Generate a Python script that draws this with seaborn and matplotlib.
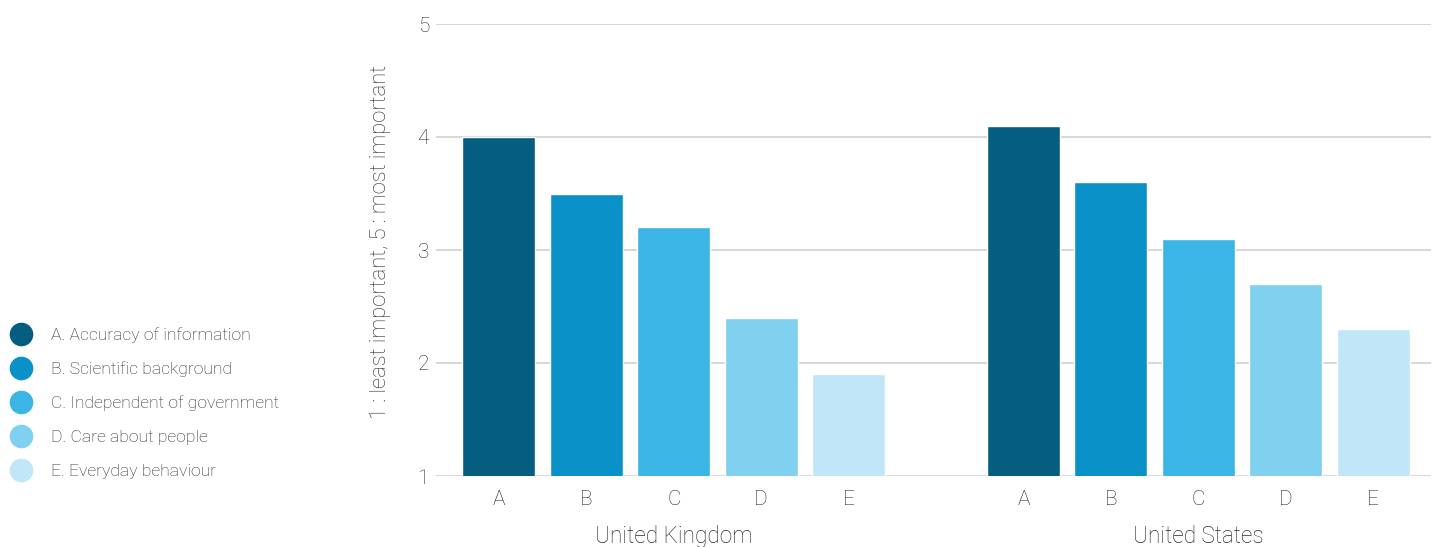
import matplotlib
matplotlib.use("Agg")
import matplotlib.pyplot as plt
from matplotlib.lines import Line2D
import seaborn as sns
import pandas as pd

# Survey data: mean importance scores (1 = least, 5 = most important)
items = ["A", "B", "C", "D", "E"]
item_labels = [
    "A. Accuracy of information",
    "B. Scientific background",
    "C. Independent of government",
    "D. Care about people",
    "E. Everyday behaviour",
]
countries = ["United Kingdom", "United States"]
uk_scores = [4.0, 3.5, 3.2, 2.4, 1.9]
us_scores = [4.1, 3.6, 3.1, 2.7, 2.3]
y_ticks = [1, 2, 3, 4, 5]
y_label = "1 : least important, 5 : most important"

palette = ["#055E80", "#0A91C7", "#3BB5E5", "#80D0EF", "#C0E6F7"]
text_color = "#2b2b2b"
grid_color = "#d4d4d4"

sns.set_theme(style="white")
plt.rcParams["font.family"] = ["Roboto", "DejaVu Sans"]

# One row per bar; the second country's group is offset by a blank slot
rows = []
for g, scores in enumerate([uk_scores, us_scores]):
    for i, (item, val) in enumerate(zip(items, scores)):
        rows.append({"pos": g * 6 + i, "item": item, "score": val,
                     "country": countries[g]})
df = pd.DataFrame(rows)

fig = plt.figure(figsize=(14.38, 5.47), dpi=100)
ax = fig.add_axes([436 / 1438, (547 - 476) / 547, (1431 - 436) / 1438, 452 / 547])

sns.barplot(data=df, x="pos", y="score", hue="item", hue_order=items,
            palette=palette, native_scale=True, dodge=False, width=0.835,
            saturation=1, legend=False, ax=ax, zorder=3)

ax.set_ylim(1, 5)
ax.set_xlim(-0.72, 10.66)
ax.set_yticks(y_ticks)
ax.set_yticklabels([str(t) for t in y_ticks], fontsize=15, color=text_color,
                   fontweight="light")
ax.set_xticks(df["pos"].tolist())
ax.set_xticklabels(df["item"].tolist(), fontsize=15, color=text_color,
                   fontweight="light")
ax.tick_params(axis="both", length=0)
ax.tick_params(axis="y", pad=5)
ax.tick_params(axis="x", pad=10)
for s in ax.spines.values():
    s.set_visible(False)
ax.grid(axis="y", color=grid_color, linewidth=1.3, zorder=0)
ax.set_axisbelow(True)
ax.set_xlabel("")
ax.set_ylabel(y_label, fontsize=15.8, color=text_color, fontweight="light")
ax.yaxis.set_label_coords(-0.045, 0.518)

# Country names under each group
for g, name in enumerate(countries):
    ax.text(g * 6 + 2, -0.133, name, transform=ax.get_xaxis_transform(),
            ha="center", va="center", fontsize=16.3, color=text_color,
            fontweight="light")

# Legend with round markers on the left
handles = [Line2D([0], [0], marker="o", linestyle="", markersize=16,
                  markerfacecolor=c, markeredgecolor=c) for c in palette]
fig.legend(handles, item_labels, loc="center left",
           bbox_to_anchor=(0.0, (547 - 403) / 547), frameon=False,
           labelcolor=text_color, handletextpad=1.1,
           labelspacing=1.06, borderaxespad=0.15, handlelength=1.25,
           prop={"weight": "light", "size": 12.6})

fig.savefig("out.png", dpi=100)
